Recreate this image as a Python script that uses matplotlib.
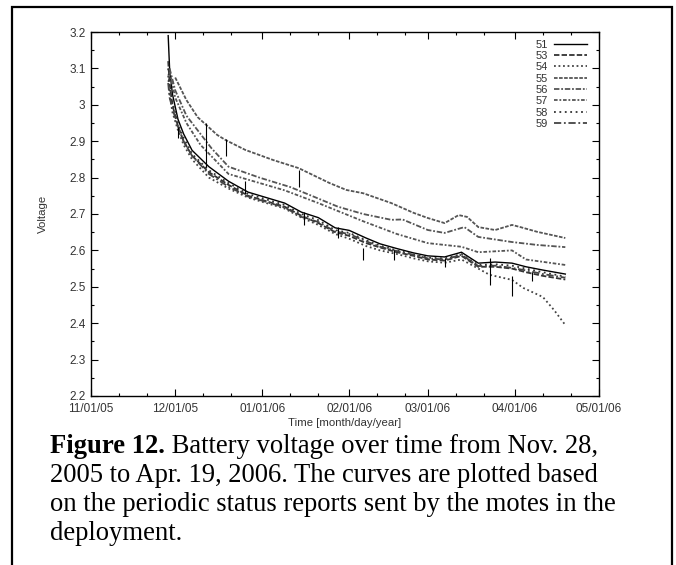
import numpy as np
import pandas as pd
import matplotlib
matplotlib.use("Agg")
import matplotlib.pyplot as plt
import matplotlib.dates as mdates
from matplotlib.ticker import MultipleLocator, FormatStrFormatter
from matplotlib.patches import Rectangle

# ---- data ----
d51 = ["2005-11-28T12:00", "2005-11-29", "2005-11-30", "2005-12-02", "2005-12-04", "2005-12-07",
       "2005-12-13", "2005-12-20", "2005-12-27", "2006-01-09", "2006-01-15", "2006-01-21",
       "2006-01-27", "2006-02-01", "2006-02-07", "2006-02-12", "2006-02-18", "2006-02-24",
       "2006-03-01", "2006-03-07", "2006-03-13", "2006-03-19", "2006-03-25", "2006-03-31",
       "2006-04-05", "2006-04-11", "2006-04-19"]
v51 = [3.19, 3.10, 3.03, 2.96, 2.92, 2.875, 2.83, 2.79, 2.76, 2.73, 2.705, 2.69, 2.662, 2.655,
       2.634, 2.618, 2.605, 2.593, 2.585, 2.582, 2.595, 2.565, 2.568, 2.565, 2.555, 2.546, 2.535]

d53 = d51
v53 = [3.12, 3.06, 3.00, 2.94, 2.90, 2.86, 2.815, 2.78, 2.75, 2.72, 2.695, 2.675, 2.65, 2.64,
       2.62, 2.608, 2.595, 2.585, 2.575, 2.572, 2.585, 2.555, 2.555, 2.55, 2.54, 2.53, 2.52]

d54 = ["2005-11-28T12:00", "2005-11-29", "2005-11-30", "2005-12-02", "2005-12-04", "2005-12-07",
       "2005-12-13", "2005-12-20", "2005-12-27", "2006-01-09", "2006-01-15", "2006-01-21",
       "2006-01-27", "2006-02-01", "2006-02-07", "2006-02-12", "2006-02-18", "2006-02-24",
       "2006-03-01", "2006-03-07", "2006-03-13", "2006-03-19", "2006-03-23", "2006-03-31",
       "2006-04-04", "2006-04-11", "2006-04-15", "2006-04-19"]
v54 = [3.08, 3.03, 2.98, 2.93, 2.89, 2.85, 2.80, 2.77, 2.745, 2.715, 2.69, 2.67, 2.645, 2.632,
       2.612, 2.60, 2.59, 2.578, 2.57, 2.566, 2.575, 2.55, 2.533, 2.519, 2.497, 2.472, 2.436, 2.395]

d55 = ["2005-12-01", "2005-12-05", "2005-12-09", "2005-12-16", "2005-12-19", "2005-12-26",
       "2006-01-05", "2006-01-14", "2006-01-25", "2006-01-31", "2006-02-06", "2006-02-16",
       "2006-02-24", "2006-03-01", "2006-03-07", "2006-03-12", "2006-03-15", "2006-03-19",
       "2006-03-25", "2006-03-31", "2006-04-03", "2006-04-09", "2006-04-19"]
v55 = [3.075, 3.013, 2.966, 2.917, 2.903, 2.876, 2.848, 2.826, 2.785, 2.766, 2.757, 2.73,
       2.703, 2.689, 2.675, 2.697, 2.692, 2.664, 2.656, 2.670, 2.664, 2.651, 2.634]

d56 = ["2005-11-29", "2005-12-01", "2005-12-05", "2005-12-09", "2005-12-14", "2005-12-20",
       "2005-12-31", "2006-01-11", "2006-01-18", "2006-01-28", "2006-02-06", "2006-02-16",
       "2006-02-20", "2006-03-01", "2006-03-07", "2006-03-14", "2006-03-19", "2006-03-31",
       "2006-04-09", "2006-04-19"]
v56 = [3.10, 3.04, 2.97, 2.93, 2.88, 2.83, 2.80, 2.774, 2.752, 2.72, 2.70, 2.684, 2.685,
       2.656, 2.648, 2.664, 2.637, 2.623, 2.615, 2.609]

d57 = ["2005-11-29", "2005-12-01", "2005-12-05", "2005-12-10", "2005-12-20", "2006-01-09",
       "2006-01-21", "2006-02-06", "2006-02-18", "2006-03-01", "2006-03-13", "2006-03-19",
       "2006-03-31", "2006-04-05", "2006-04-19"]
v57 = [3.09, 3.02, 2.95, 2.89, 2.81, 2.765, 2.73, 2.68, 2.645, 2.62, 2.61, 2.595, 2.60,
       2.575, 2.56]

d58 = d51
v58 = [3.10, 3.05, 3.01, 2.95, 2.91, 2.865, 2.82, 2.785, 2.755, 2.725, 2.70, 2.683, 2.656,
       2.648, 2.628, 2.613, 2.60, 2.59, 2.58, 2.578, 2.59, 2.56, 2.562, 2.558, 2.55, 2.54, 2.528]

d59 = d51
v59 = [3.06, 3.02, 2.99, 2.94, 2.90, 2.86, 2.81, 2.775, 2.748, 2.718, 2.692, 2.678, 2.652,
       2.645, 2.625, 2.61, 2.598, 2.588, 2.578, 2.575, 2.588, 2.557, 2.558, 2.552, 2.545, 2.535, 2.525]

# short voltage drops visible as vertical ticks
spike_dates = ["2005-12-02", "2005-12-12", "2005-12-19", "2005-12-26", "2006-01-14",
               "2006-01-16", "2006-01-28", "2006-02-06", "2006-02-17", "2006-03-07",
               "2006-03-23", "2006-03-31", "2006-04-07"]
spike_top = [2.94, 2.95, 2.905, 2.79, 2.82, 2.705, 2.665, 2.607, 2.60, 2.58, 2.58, 2.53, 2.54]
spike_bot = [2.91, 2.83, 2.86, 2.755, 2.775, 2.67, 2.635, 2.574, 2.575, 2.555, 2.505, 2.475, 2.515]

ids = ["51", "53", "54", "55", "56", "57", "58", "59"]
dates = [d51, d53, d54, d55, d56, d57, d58, d59]
volts = [v51, v53, v54, v55, v56, v57, v58, v59]

styles = ["-", (0, (3, 1.2)), (0, (1, 1.5)), (0, (2, 0.8)), (0, (3, 1, 1, 1)),
          (0, (2, 1, 1, 1)), (0, (1, 2)), (0, (4, 1.5, 1, 1.5))]
colors = ["black", "#333333", "#444444", "#555555", "#555555", "#555555", "#333333", "#444444"]
widths = [1.0, 1.3, 1.3, 1.3, 1.3, 1.3, 1.3, 1.3]

plt.rcParams['font.family'] = ['Liberation Sans', 'DejaVu Sans']

fig = plt.figure(figsize=(6.76, 5.65), dpi=100)
ax = fig.add_axes([91 / 676, 1 - 396 / 565, 508 / 676, 364 / 565])

for i in range(len(ids)):
    ax.plot(pd.to_datetime(dates[i], format="ISO8601"), volts[i], linestyle=styles[i],
            color=colors[i], lw=widths[i], label=ids[i])

ax.vlines(pd.to_datetime(spike_dates, format="ISO8601"), spike_bot, spike_top,
          color="black", lw=0.8)

ax.set_xlim(pd.Timestamp("2005-11-01"), pd.Timestamp("2006-05-01"))
ax.set_ylim(2.2, 3.2)
ax.xaxis.set_major_locator(mdates.MonthLocator())
ax.xaxis.set_minor_locator(mdates.DayLocator(bymonthday=[11, 21]))
ax.xaxis.set_major_formatter(mdates.DateFormatter("%m/%d/%y"))
ax.yaxis.set_major_locator(MultipleLocator(0.1))
ax.yaxis.set_minor_locator(MultipleLocator(0.05))
ax.yaxis.set_major_formatter(FormatStrFormatter("%g"))
ax.tick_params(which="both", direction="in", top=True, right=True, labelsize=8.5,
               labelcolor="#333333", width=0.8)
ax.tick_params(which="major", length=5)
ax.tick_params(which="minor", length=2.5)
ax.tick_params(axis="x", which="major", pad=5)
ax.tick_params(axis="y", which="major", pad=4)
for s in ax.spines.values():
    s.set_linewidth(1.0)

ax.set_xlabel("Time [month/day/year]", fontsize=8.2, color="#333333", labelpad=2)
ax.set_ylabel("Voltage", fontsize=8.2, color="#333333", labelpad=15)

leg = ax.legend(loc="upper right", bbox_to_anchor=(0.985, 0.991), borderaxespad=0,
                frameon=False, markerfirst=False, fontsize=8, handlelength=3.0,
                labelspacing=0.12, handletextpad=0.5)
for t in leg.get_texts():
    t.set_color("#333333")

# border around the figure panel
fig.patches.append(Rectangle((12 / 676, -0.1), 660 / 676, 1.1 - 7 / 565, transform=fig.transFigure,
                             fill=False, lw=1.6, edgecolor="black"))

# caption
cap = dict(family="Liberation Serif", fontsize=19.2, color="black", va="baseline")
t1 = fig.text(50 / 676, 1 - 453 / 565, "Figure 12.", fontweight="bold", **cap)
r = fig.canvas.get_renderer()
x1 = t1.get_window_extent(r).x1
fig.text(x1 / fig.bbox.width, 1 - 453 / 565, " Battery voltage over time from Nov. 28,", **cap)
fig.text(50 / 676, 1 - 482 / 565, "2005 to Apr. 19, 2006. The curves are plotted based", **cap)
fig.text(50 / 676, 1 - 511 / 565, "on the periodic status reports sent by the motes in the", **cap)
fig.text(50 / 676, 1 - 540 / 565, "deployment.", **cap)

fig.savefig("out.png", dpi=100)
